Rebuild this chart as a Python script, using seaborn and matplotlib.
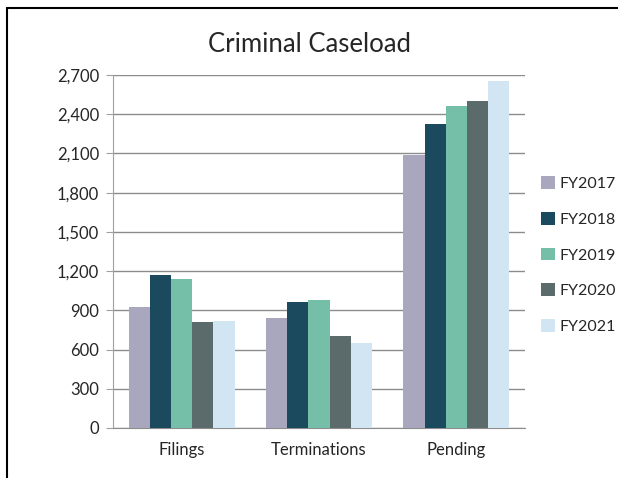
import pandas as pd
import seaborn as sns
import matplotlib.pyplot as plt
from matplotlib.lines import Line2D
from matplotlib.ticker import FuncFormatter

# values
categories = ["Filings", "Terminations", "Pending"]
years = ["FY2017", "FY2018", "FY2019", "FY2020", "FY2021"]
fy2017 = [925, 843, 2089]
fy2018 = [1167, 965, 2323]
fy2019 = [1136, 978, 2466]
fy2020 = [807, 703, 2504]
fy2021 = [815, 652, 2654]
colors = ["#A9A7BE", "#1B4A5E", "#75BFA8", "#5B6B6B", "#D1E5F3"]

rows = []
for yr, vals in zip(years, [fy2017, fy2018, fy2019, fy2020, fy2021]):
    for cat, v in zip(categories, vals):
        rows.append({"category": cat, "year": yr, "count": v})
df = pd.DataFrame(rows)

sns.set_style("white")
plt.rcParams["font.family"] = ["Lato", "DejaVu Sans"]

fig = plt.figure(figsize=(6.18, 4.78), dpi=100)
ax = fig.add_axes([113 / 618, 1 - 428 / 478, 412 / 618, 353 / 478])

sns.barplot(data=df, x="category", y="count", hue="year", palette=colors,
            width=0.77, gap=0, saturation=1, ax=ax, linewidth=0, zorder=3)

ax.set_ylim(0, 2700)
ax.set_xlim(-0.5, 2.5)
ax.set_yticks(range(0, 2701, 300))
ax.yaxis.set_major_formatter(FuncFormatter(lambda v, p: f"{int(v):,}"))
ax.grid(axis="y", color="#8c8c8c", linewidth=1, zorder=0)
for s in ["top", "right"]:
    ax.spines[s].set_visible(False)
ax.spines["left"].set_color("#a0a0a0")
ax.spines["bottom"].set_color("#8c8c8c")
ax.tick_params(axis="y", length=5, color="#a0a0a0", left=True, labelsize=12, pad=5)
ax.tick_params(axis="x", length=0, labelsize=12, pad=10)
ax.set_xlabel("")
ax.set_ylabel("")

ax.legend(loc="upper left", bbox_to_anchor=(527 / 618, 1 - 162 / 478),
          bbox_transform=fig.transFigure, frameon=False, fontsize=11.5,
          handlelength=0.85, handleheight=0.85, handletextpad=0.3,
          labelspacing=1.3)

fig.text(310 / 618, 1 - 45 / 478, "Criminal Caseload",
         ha="center", va="center", fontsize=18.5)

# outer frame: top and left edges only, as in the reference
fig.add_artist(Line2D([7 / 618, 1], [1 - 8 / 478, 1 - 8 / 478],
                      transform=fig.transFigure, color="black", linewidth=1.5))
fig.add_artist(Line2D([7 / 618, 7 / 618], [0, 1 - 8 / 478],
                      transform=fig.transFigure, color="black", linewidth=1.5))

fig.savefig("out.png", dpi=100)
